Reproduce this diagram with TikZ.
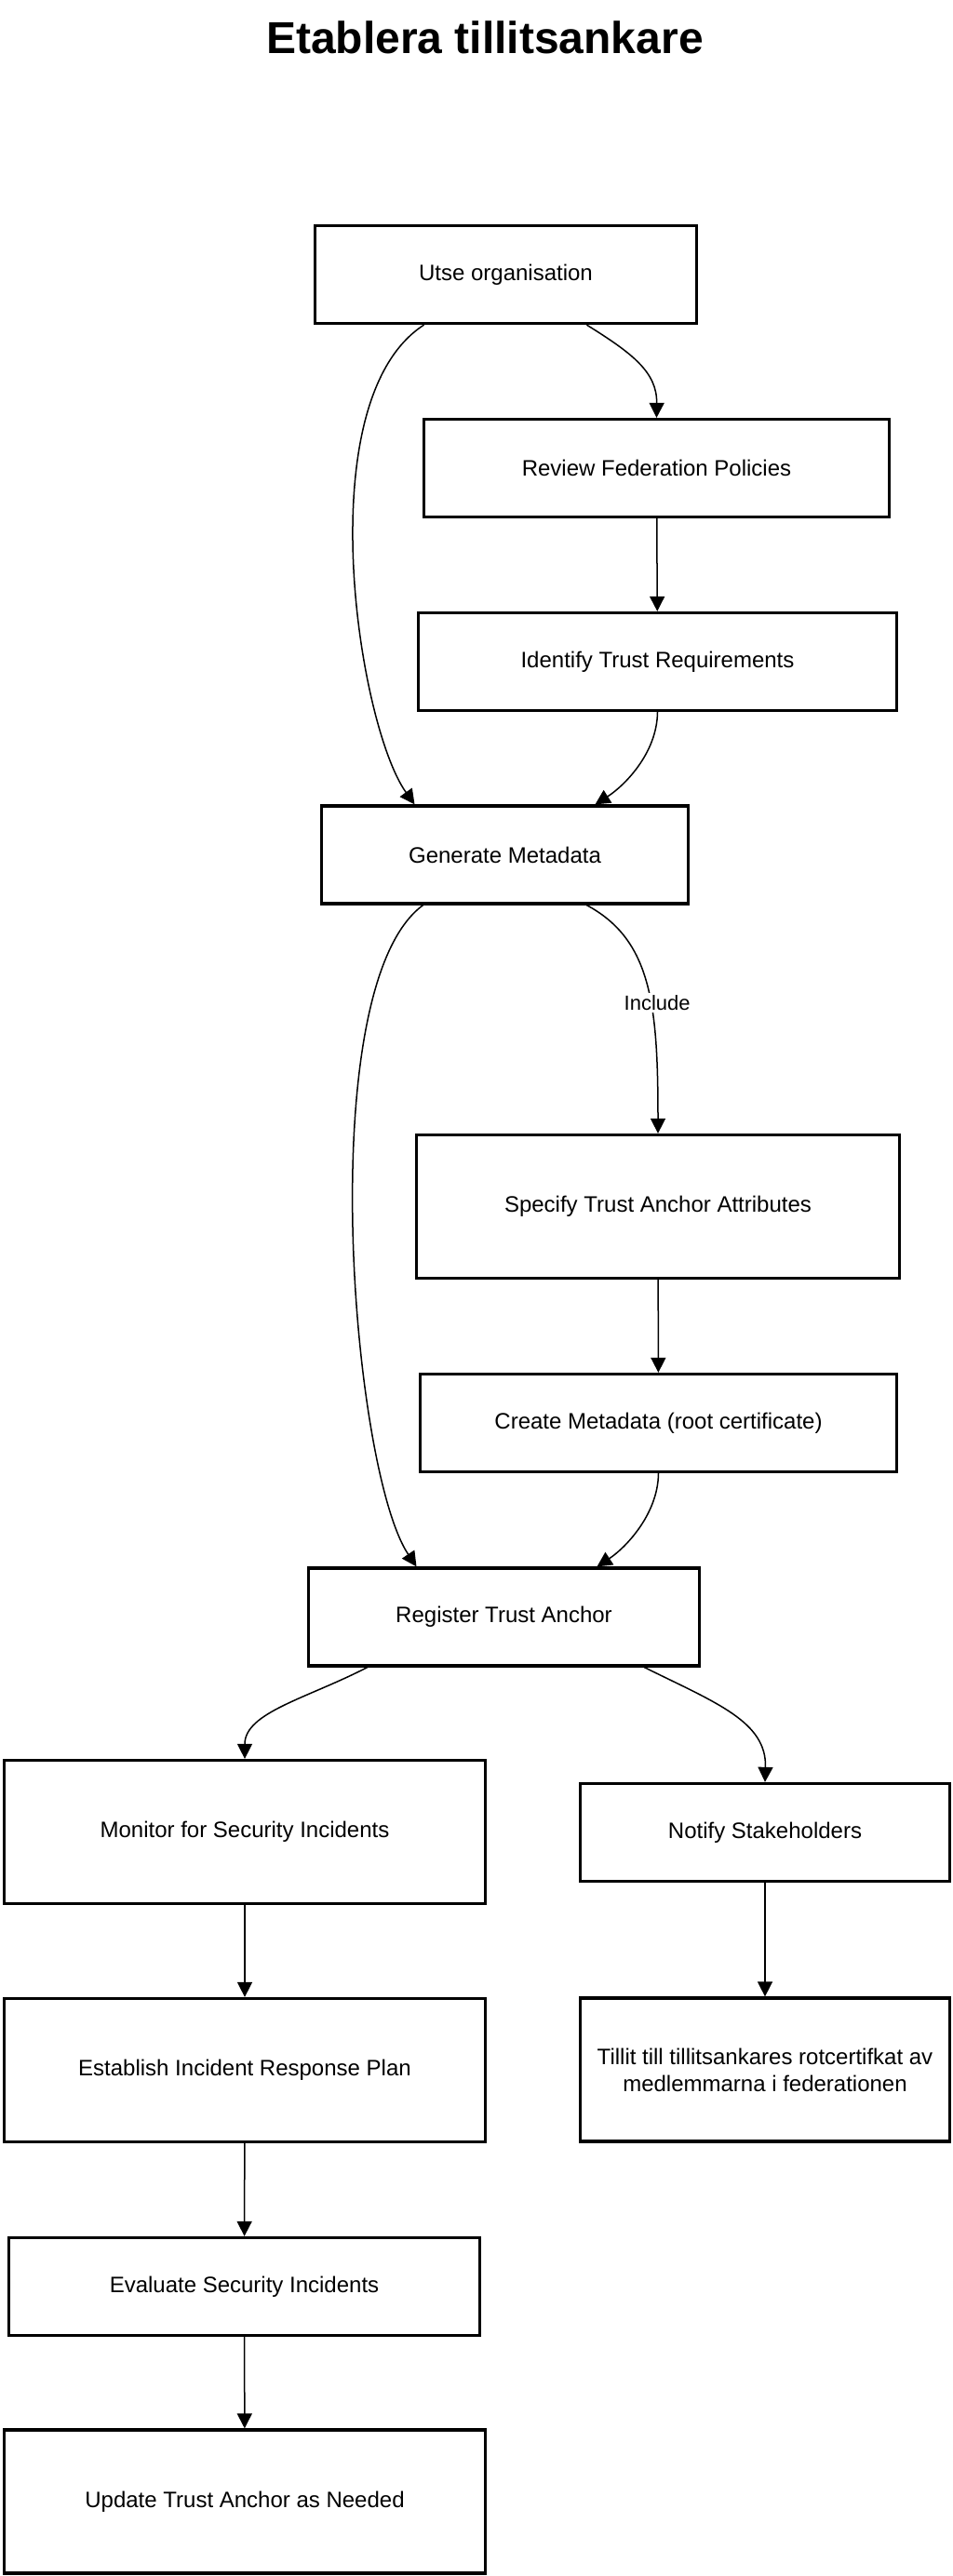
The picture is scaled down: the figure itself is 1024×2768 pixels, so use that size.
\documentclass[tikz,border=0pt]{standalone}
\usepackage{fontspec}
\setmainfont{Liberation Sans}
\usetikzlibrary{arrows.meta}

\begin{document}
\begin{tikzpicture}[
  x=1pt, y=-1pt,
  box/.style     = {rectangle, draw=black, line width=3.3pt, fill=white,
                    minimum height=105pt, inner sep=0pt, align=center,
                    font=\fontsize{24}{29}\selectfont},
  tallbox/.style = {box, minimum height=154pt},
  flow/.style    = {-{Triangle[length=16pt,width=16pt]}, draw=black,
                    line width=1.5pt},
  edgelab/.style = {font=\fontsize{22}{26}\selectfont, fill=white,
                    inner sep=2pt},
  heading/.style = {font=\fontsize{48}{58}\selectfont\bfseries, anchor=base},
]
\useasboundingbox (0,0) rectangle (1024,2768);
\node[heading] (ttl) at (521,57) {Etablera tillitsankare};
\node[box, minimum width=410pt]     (utse)      at (543.5,295)   {Utse organisation};
\node[box, minimum width=500pt]     (review)    at (705.5,503)   {Review Federation Policies};
\node[box, minimum width=514pt]     (ident)     at (706.5,711)   {Identify Trust Requirements};
\node[box, minimum width=394pt]     (gen)       at (542.5,918.5) {Generate Metadata};
\node[tallbox, minimum width=519pt] (spec)      at (707,1296.5)  {Specify Trust Anchor Attributes};
\node[box, minimum width=512pt]     (create)    at (707.5,1529)  {Create Metadata (root certificate)};
\node[box, minimum width=420pt]     (reg)       at (541.5,1737.5){Register Trust Anchor};
\node[tallbox, minimum width=517pt] (monitor)   at (263,1968.5)  {Monitor for Security Incidents};
\node[box, minimum width=397pt]     (notify)    at (822,1969)    {Notify Stakeholders};
\node[tallbox, minimum width=517pt] (establish) at (263,2224.5)  {Establish Incident Response Plan};
\node[tallbox, minimum width=397pt] (tillit)    at (822,2224)    {Tillit till tillitsankares rotcertifkat av\\medlemmarna i federationen};
\node[box, minimum width=506pt]     (evaluate)  at (262.5,2457)  {Evaluate Security Incidents};
\node[tallbox, minimum width=517pt] (update)    at (263,2688)    {Update Trust Anchor as Needed};
\draw[flow] ([xshift=-88pt]utse.south) .. controls (330,430) and (385,780) .. ([xshift=-97pt]gen.north);
\draw[flow] ([xshift=87pt]utse.south) .. controls (680,380) and (706,400) .. (review.north);
\draw[flow] (review) -- (ident);
\draw[flow] (ident.south) .. controls (706,810) and (670,845) .. ([xshift=97pt]gen.north);
\draw[flow] ([xshift=88pt]gen.south) .. controls (700,1010) and (707,1080) .. (spec.north)
  node[edgelab, pos=0.58, xshift=7pt] {Include};
\draw[flow] ([xshift=-88pt]gen.south) .. controls (335,1060) and (378,1580) .. ([xshift=-94pt]reg.north);
\draw[flow] (spec) -- (create);
\draw[flow] (create.south) .. controls (707,1628) and (671,1664) .. ([xshift=100pt]reg.north);
\draw[flow] ([xshift=-147pt]reg.south) .. controls (330,1825) and (263,1840) .. (monitor.north);
\draw[flow] ([xshift=151pt]reg.south) .. controls (770,1830) and (824,1850) .. (notify.north);
\draw[flow] (monitor) -- (establish);
\draw[flow] (notify) -- (tillit);
\draw[flow] (establish) -- (evaluate);
\draw[flow] (evaluate) -- (update);
\end{tikzpicture}
\end{document}
